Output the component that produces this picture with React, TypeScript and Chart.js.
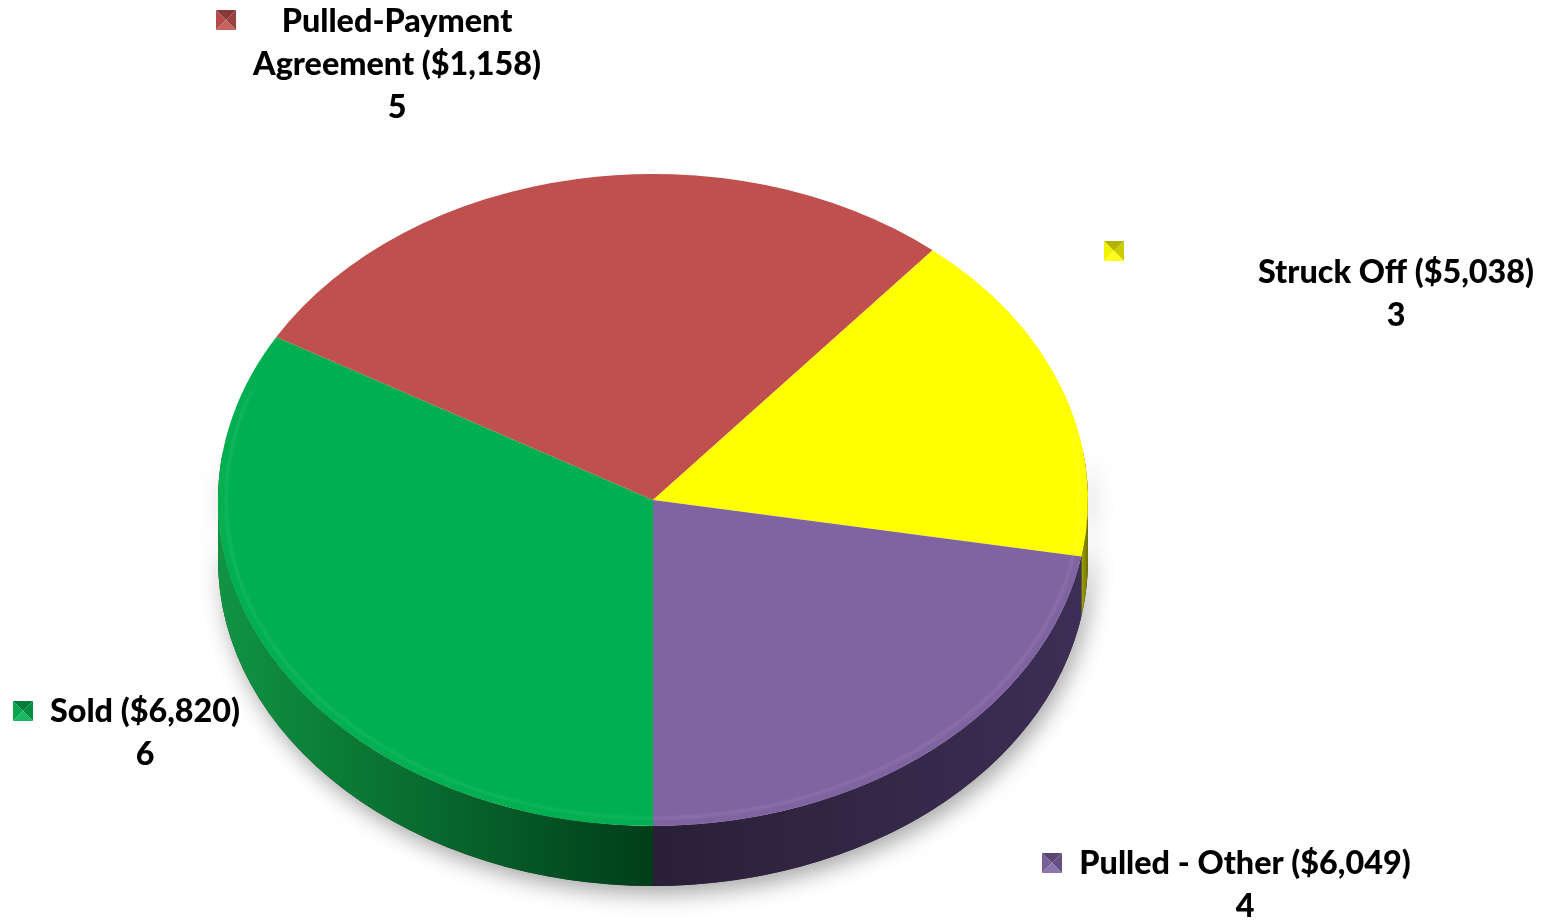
import { useEffect, useRef } from 'react';
import { Chart, registerables } from 'chart.js';
Chart.register(...registerables);

// ---- data ----
const categories = ['Sold', 'Pulled-Payment Agreement', 'Struck Off', 'Pulled - Other'];
const counts = [6, 5, 3, 4];
const amounts = ['$6,820', '$1,158', '$5,038', '$6,049'];

// ---- styles ----
const colors = ['#00B050', '#C0504D', '#FFFF00', '#8064A2'];
const sideColors = [
  ['#109443', '#003d19'],
  ['#8f3735', '#5c1f1e'],
  ['#a8a800', '#6a6a00'],
  ['#3d2e55', '#2a1f38'],
];

// label layout (screen positions)
const labelLayout = [
  { marker: [23, 711], cx: 145, y0: 712, wrap: false },
  { marker: [226, 20], cx: 397, y0: 22, wrap: true },
  { marker: [1114, 251], cx: 1396, y0: 273, wrap: false },
  { marker: [1052, 863], cx: 1245, y0: 864, wrap: false },
];

const CX = 653, CY = 500, RX = 435, RY = 326, DEPTH = 60;
const LINE_H = 43;
const FONT_FAMILY = 'Lato, "Open Sans", sans-serif';

function shade(hex: string, f: number) {
  const n = parseInt(hex.slice(1), 16);
  let r = (n >> 16) & 255, g = (n >> 8) & 255, b = n & 255;
  if (f < 0) { r *= 1 + f; g *= 1 + f; b *= 1 + f; }
  else { r += (255 - r) * f; g += (255 - g) * f; b += (255 - b) * f; }
  return `rgb(${Math.round(r)},${Math.round(g)},${Math.round(b)})`;
}

const pie3d = {
  id: 'pie3d',
  beforeDatasetsDraw(chart: any) {
    const ctx: CanvasRenderingContext2D = chart.ctx;
    const arcs: any[] = chart.getDatasetMeta(0).data;
    const R = arcs[0].outerRadius, ox = arcs[0].x, oy = arcs[0].y;

    // drop shadow under the side
    ctx.save();
    ctx.shadowColor = 'rgba(0,0,0,0.35)';
    ctx.shadowBlur = 22;
    ctx.shadowOffsetY = 8;
    ctx.shadowOffsetX = 4;
    ctx.beginPath();
    ctx.ellipse(CX, CY, RX, RY, 0, -0.15, Math.PI + 0.15);
    ctx.ellipse(CX, CY + DEPTH, RX, RY, 0, Math.PI + 0.15, -0.15, true);
    ctx.closePath();
    ctx.fillStyle = '#333';
    ctx.fill();
    ctx.restore();

    // side walls per slice
    arcs.forEach((arc: any, i: number) => {
      const s = arc.startAngle, e = arc.endAngle;
      for (let k = -1; k <= 1; k++) {
        const a1 = Math.max(s + 2 * Math.PI * k, 0);
        const a2 = Math.min(e + 2 * Math.PI * k, Math.PI);
        if (a2 <= a1) continue;
        const xa = CX + RX * Math.cos(a2), xb = CX + RX * Math.cos(a1);
        const g = ctx.createLinearGradient(Math.min(xa, xb) - 1, 0, Math.max(xa, xb) + 1, 0);
        const [c1, c2] = sideColors[i];
        if (i === 3) { g.addColorStop(0, c2); g.addColorStop(1, c1); }
        else { g.addColorStop(0, c1); g.addColorStop(1, c2); }
        ctx.save();
        ctx.beginPath();
        ctx.ellipse(CX, CY, RX, RY, 0, a1, a2);
        ctx.ellipse(CX, CY + DEPTH, RX, RY, 0, a2, a1, true);
        ctx.closePath();
        ctx.fillStyle = g;
        ctx.fill();
        ctx.restore();
      }
    });

    ctx.save();
    ctx.translate(CX, CY);
    ctx.scale(RX / R, RY / R);
    ctx.translate(-ox, -oy);
  },
  afterDatasetsDraw(chart: any) {
    const ctx: CanvasRenderingContext2D = chart.ctx;
    ctx.restore();
    const arcs: any[] = chart.getDatasetMeta(0).data;
    // subtle bevel rim on the front edge of top face
    arcs.forEach((arc: any, i: number) => {
      const s = arc.startAngle, e = arc.endAngle;
      for (let k = -1; k <= 1; k++) {
        const a1 = Math.max(s + 2 * Math.PI * k, -0.2);
        const a2 = Math.min(e + 2 * Math.PI * k, Math.PI + 0.35);
        if (a2 <= a1) continue;
        ctx.save();
        ctx.beginPath();
        ctx.ellipse(CX, CY, RX - 8, RY - 8, 0, a1, a2);
        ctx.strokeStyle = shade(colors[i], 0.15);
        ctx.globalAlpha = 0.5;
        ctx.lineWidth = 3;
        ctx.filter = 'blur(1px)';
        ctx.stroke();
        ctx.restore();
      }
    });
  },
  afterDraw(chart: any) {
    const ctx: CanvasRenderingContext2D = chart.ctx;
    ctx.save();
    ctx.font = `900 30px ${FONT_FAMILY}`;
    const w = ctx.measureText('Struck Off ($5,038)').width;
    const size = (30 * 276) / w;
    const font = `900 ${size.toFixed(2)}px ${FONT_FAMILY}`;
    categories.forEach((name, i) => {
      const L = labelLayout[i];
      const full = `${name} (${amounts[i]})`;
      let lines: string[];
      if (L.wrap) {
        const sp = name.indexOf(' ');
        lines = [name.slice(0, sp), `${name.slice(sp + 1)} (${amounts[i]})`];
      } else lines = [full];
      lines.push(String(counts[i]));
      ctx.font = font;
      ctx.fillStyle = '#000';
      ctx.textAlign = 'center';
      ctx.textBaseline = 'middle';
      lines.forEach((t, j) => ctx.fillText(t, L.cx, L.y0 + j * LINE_H));

      // pyramid marker
      const [mx, my] = L.marker;
      const h = 10;
      const base = colors[i];
      const tri = (pts: number[][], c: string) => {
        ctx.beginPath();
        ctx.moveTo(pts[0][0], pts[0][1]);
        ctx.lineTo(pts[1][0], pts[1][1]);
        ctx.lineTo(pts[2][0], pts[2][1]);
        ctx.closePath();
        ctx.fillStyle = c;
        ctx.fill();
      };
      const tl = [mx - h, my - h], tr = [mx + h, my - h], br = [mx + h, my + h], bl = [mx - h, my + h], c = [mx, my];
      tri([tl, tr, c], shade(base, -0.3));
      tri([tl, bl, c], shade(base, -0.05));
      tri([tr, br, c], shade(base, -0.2));
      tri([bl, br, c], shade(base, 0.1));
    });
    ctx.restore();
  },
};

export default function App() {
  const ref = useRef<HTMLCanvasElement>(null);
  useEffect(() => {
    document.body.style.margin = '0';
    document.body.style.overflow = 'hidden';
    document.body.style.background = '#fff';
    const chart = new Chart(ref.current!, {
      type: 'pie',
      data: {
        labels: categories,
        datasets: [{
          data: counts,
          backgroundColor: colors,
          borderWidth: 0,
          clip: false as any,
        }],
      },
      options: {
        responsive: false,
        animation: false,
        events: [],
        rotation: 180,
        layout: { padding: 0 },
        plugins: { legend: { display: false }, tooltip: { enabled: false } },
      },
      plugins: [pie3d],
    });
    return () => chart.destroy();
  }, []);
  return <canvas ref={ref} width={1553} height={922} style={{ display: 'block' }} />;
}
